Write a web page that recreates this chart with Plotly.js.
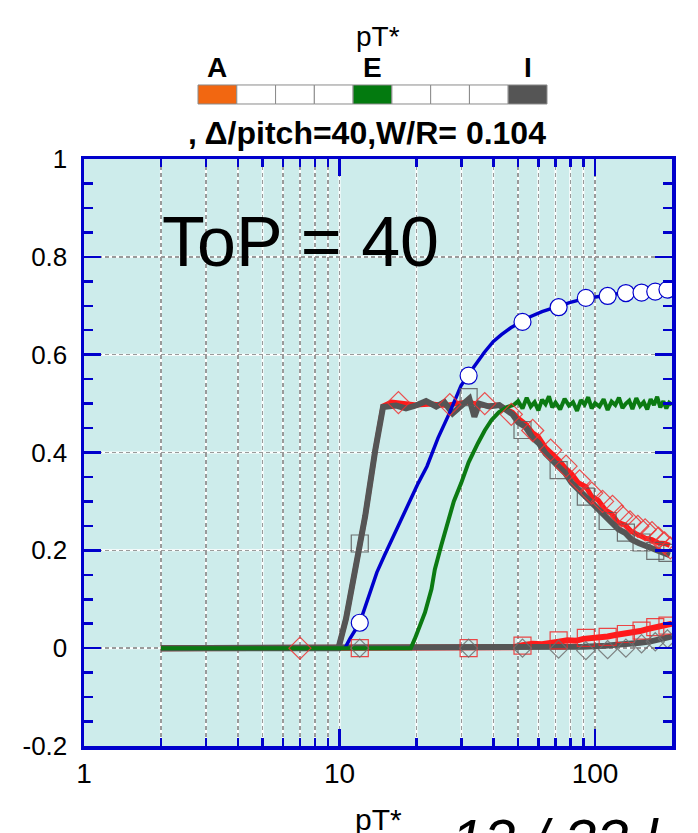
<!DOCTYPE html>
<html>
<head>
<meta charset="utf-8">
<script src="https://cdn.plot.ly/plotly-3.0.1.min.js"></script>
<style>html,body{margin:0;padding:0;background:#fff;}#chart{width:698px;height:833px;}</style>
</head>
<body>
<div id="chart"></div>
<script>
// ---------- data ----------
const blueX = [10.5, 11, 12, 13, 14, 15, 16, 18, 20.3, 22, 24.3, 27, 29.9, 32, 34, 36.9, 40, 43, 46.8, 52, 56, 62, 72, 80, 92, 100, 112, 120, 132, 152, 172, 195];
const blueY = [0, 0.02, 0.052, 0.105, 0.155, 0.19, 0.222, 0.277, 0.337, 0.372, 0.43, 0.482, 0.537, 0.56, 0.58, 0.605, 0.627, 0.641, 0.655, 0.668, 0.678, 0.688, 0.699, 0.707, 0.715, 0.718, 0.722, 0.724, 0.726, 0.728, 0.73, 0.732];

const greenX = [2, 19, 19.7, 20.5, 21.6, 22.9, 23.6, 25, 26.6, 28, 29.9, 32, 34.8, 37, 39.3, 42, 45.2,
  48, 50, 52, 54, 56, 58, 60, 62, 64, 66, 68, 70, 73, 76, 79, 82, 85, 88, 91, 94, 97, 100, 104, 108, 112, 116, 120, 124, 128, 132, 136, 140, 145, 150, 155, 160, 165, 170, 175, 180, 185, 190, 195, 200];
const greenY = [0, 0, 0.019, 0.045, 0.073, 0.121, 0.161, 0.21, 0.256, 0.3, 0.337, 0.38, 0.419, 0.445, 0.466, 0.482, 0.493,
  0.497, 0.505, 0.49, 0.512, 0.494, 0.503, 0.486, 0.508, 0.499, 0.515, 0.492, 0.502, 0.488, 0.51, 0.496, 0.503, 0.485, 0.507, 0.498, 0.513, 0.49, 0.501, 0.494, 0.509, 0.487, 0.504, 0.497, 0.512, 0.491, 0.5, 0.506, 0.489, 0.511, 0.495, 0.503, 0.488, 0.509, 0.497, 0.514, 0.492, 0.505, 0.49, 0.502, 0.498];

const greyUpX = [2, 9.9, 10.6, 11.3, 11.6, 12.6, 13.8, 14.8, 16.65, 18.2, 19.9, 21.8, 23.9, 25.7, 27.7, 30.3, 32.2, 33.7, 35.2, 38.5, 42.2, 47.5, 50, 53.5, 57, 60.2, 64, 67.8, 72, 76.4, 81, 86, 92, 97.4, 103, 109.6, 116, 123.5, 131, 139, 148, 157, 167, 177.5, 187, 196];
const greyUpY = [0, 0, 0.06, 0.141, 0.161, 0.27, 0.405, 0.493, 0.496, 0.49, 0.496, 0.505, 0.494, 0.503, 0.48, 0.496, 0.51, 0.473, 0.5, 0.494, 0.497, 0.478, 0.462, 0.452, 0.43, 0.419, 0.398, 0.385, 0.37, 0.358, 0.338, 0.324, 0.31, 0.297, 0.285, 0.27, 0.258, 0.243, 0.236, 0.222, 0.215, 0.209, 0.203, 0.199, 0.194, 0.19];

const redUpX = [2, 9.9, 10.6, 11.3, 12.6, 13.8, 14.8, 16, 18, 20, 23, 26, 29, 32, 35, 38, 42, 47.5, 50, 53.5, 57, 60, 64, 67.8, 72, 76, 81, 86, 92, 97, 103, 110, 116, 123, 131, 139, 148, 157, 167, 177, 187, 196];
const redUpY = [0, 0, 0.06, 0.141, 0.27, 0.405, 0.495, 0.503, 0.5, 0.497, 0.499, 0.496, 0.5, 0.503, 0.498, 0.495, 0.497, 0.482, 0.47, 0.458, 0.44, 0.432, 0.41, 0.398, 0.385, 0.37, 0.356, 0.338, 0.33, 0.31, 0.302, 0.282, 0.275, 0.257, 0.252, 0.238, 0.232, 0.225, 0.222, 0.215, 0.214, 0.21];

const redLowX = [2, 42, 48, 52, 57, 62, 67, 72, 78, 84, 90, 97, 104, 112, 120, 130, 140, 150, 160, 170, 180, 190, 200];
const redLowY = [0, 0, 0.002, 0.006, 0.009, 0.008, 0.012, 0.013, 0.016, 0.015, 0.019, 0.02, 0.022, 0.024, 0.027, 0.029, 0.033, 0.035, 0.039, 0.042, 0.045, 0.047, 0.05];

const greyLowX = [2, 40, 60, 72, 90, 110, 130, 150, 165, 180, 200];
const greyLowY = [0, 0, 0.001, 0.002, 0.003, 0.005, 0.007, 0.011, 0.014, 0.018, 0.024];

// markers
const markX = [12, 32, 52, 72, 92, 112, 132, 152, 172, 192];
const blueMarkY = [0.052, 0.557, 0.667, 0.697, 0.716, 0.72, 0.726, 0.727, 0.729, 0.733];
const greySqY = [0.214, 0.513, 0.446, 0.364, 0.31, 0.26, 0.236, 0.216, 0.199, 0.195];
const redSqY = [0, 0, 0.005, 0.016, 0.021, 0.023, 0.029, 0.036, 0.043, 0.046];
const greyDiaY = [0, 0, 0, -0.002, -0.005, -0.003, 0, 0.009, 0.013, 0.019];
const redDiaX = [7, 17, 27, 37, 47, 57, 67, 77, 87, 97, 107, 117, 127, 137, 147, 157, 167, 177, 187, 197];
const redDiaY = [0, 0.502, 0.498, 0.5, 0.478, 0.445, 0.405, 0.372, 0.342, 0.317, 0.3, 0.29, 0.27, 0.258, 0.249, 0.242, 0.236, 0.225, 0.215, 0.205];

// ticks & legend
const xTickVals = [1, 10, 100];
const xTickText = ['1', '10', '100'];
const xMinorVals = [2, 3, 4, 5, 6, 7, 8, 9, 20, 30, 40, 50, 60, 70, 80, 90, 200];
const yTickVals = [-0.2, 0, 0.2, 0.4, 0.6, 0.8, 1];
const yTickText = ['-0.2', '0', '0.2', '0.4', '0.6', '0.8', '1'];
const legendColors = ['#f26711', '#ffffff', '#ffffff', '#ffffff', '#037a0f', '#ffffff', '#ffffff', '#ffffff', '#555555'];
const legendLabels = [['A', 0], ['E', 4], ['I', 8]];

// ---------- styling ----------
const BLUE = '#0000cc', GREEN = '#0b7a12', GREY = '#555555', RED = '#ff1a1a';
const FONT = 'Liberation Sans, Arial, sans-serif';
const GRIDDASH = '4px,3px';

function line(x, y, color, width) {
  return {x: x, y: y, type: 'scatter', mode: 'lines', line: {color: color, width: width}, hoverinfo: 'skip'};
}
function marks(x, y, symbol, size, color, fill, lw) {
  return {x: x, y: y, type: 'scatter', mode: 'markers', hoverinfo: 'skip',
    marker: {symbol: symbol, size: size, color: fill || color, line: {color: color, width: lw || 1.2}}};
}

const traces = [
  line(redLowX, redLowY, RED, 6),
  line(greyLowX, greyLowY, GREY, 6),
  line(redUpX, redUpY, RED, 5),
  line(greyUpX, greyUpY, GREY, 6),
  line(blueX, blueY, BLUE, 3.5),
  line(greenX, greenY, GREEN, 4),
  marks(markX, redSqY, 'square-open', 17, 'rgba(240,40,40,0.85)'),
  marks(markX, greyDiaY, 'diamond-open', 14, 'rgba(110,110,110,0.85)'),
  marks(markX, greySqY, 'square-open', 17, 'rgba(90,90,90,0.85)'),
  marks(redDiaX, redDiaY, 'diamond-open', 17, 'rgba(240,50,50,0.85)'),
  marks(markX, blueMarkY, 'circle', 17, BLUE, '#ffffff', 1.2)
];

// grid underlay (white) beneath dashed grey grid
const shapes = [];
const gridXs = [2, 3, 4, 5, 6, 7, 8, 9, 10, 20, 30, 40, 50, 60, 70, 80, 90, 100];
gridXs.forEach(v => shapes.push({type: 'line', xref: 'x', yref: 'paper', x0: v, x1: v, y0: 0, y1: 1, layer: 'below', line: {color: '#ffffff', width: 2}}));
[0, 0.2, 0.4, 0.6, 0.8].forEach(v => shapes.push({type: 'line', xref: 'paper', yref: 'y', x0: 0, x1: 1, y0: v, y1: v, layer: 'below', line: {color: '#ffffff', width: 2}}));

// legend strip above plot
const L0 = 0.1939, L1 = 0.7874, LB = 1.0937, LT = 1.1261;
const cw = (L1 - L0) / legendColors.length;
legendColors.forEach((c, i) => shapes.push({type: 'rect', xref: 'paper', yref: 'paper',
  x0: L0 + i * cw, x1: L0 + (i + 1) * cw, y0: LB, y1: LT, fillcolor: c, line: {color: '#8a8a8a', width: 1}}));

function ann(text, x, y, size, extra) {
  return Object.assign({text: text, xref: 'paper', yref: 'paper', x: x, y: y, xanchor: 'center', yanchor: 'middle',
    showarrow: false, font: {family: FONT, size: size, color: '#000'}}, extra || {});
}

const annotations = [
  ann('pT*', 0.4995, 1.209, 28),
  ann('<b>, Δ/pitch=40,W/R= 0.104</b>', 0.4813, 1.0443, 32),
  ann('ToP = 40', 0.1293, 0.858, 70, {xanchor: 'left'}),
  ann('pT*', 0.5, -0.094, 30, {yanchor: 'top'}),
  ann('<i>12 / 33 l</i>', 0.62, -0.1, 58, {xanchor: 'left', yanchor: 'top'})
];
legendLabels.forEach(([t, i]) => annotations.push(ann('<b>' + t + '</b>', L0 + (i + 0.5) * cw, 1.156, 28)));

const layout = {
  width: 698, height: 833,
  margin: {l: 84, r: 26, t: 159, b: 87},
  paper_bgcolor: '#ffffff', plot_bgcolor: '#cdeceb',
  showlegend: false,
  xaxis: {
    type: 'log', range: [0, Math.log10(200)],
    tickmode: 'array', tickvals: xTickVals, ticktext: xTickText,
    ticks: 'inside', ticklen: 17, tickwidth: 2.5, tickcolor: BLUE,
    showline: true, linecolor: BLUE, linewidth: 3.5, mirror: 'ticks',
    showgrid: true, gridcolor: '#9a9a9a', griddash: GRIDDASH, gridwidth: 1.5,
    zeroline: false,
    tickfont: {family: FONT, size: 28, color: '#000'},
    minor: {tickmode: 'array', tickvals: xMinorVals, ticks: 'inside', ticklen: 8, tickwidth: 2.5, tickcolor: BLUE,
      showgrid: true, gridcolor: '#9a9a9a', griddash: GRIDDASH, gridwidth: 1.5}
  },
  yaxis: {
    range: [-0.2, 1],
    tickmode: 'array', tickvals: yTickVals, ticktext: yTickText,
    ticks: 'inside', ticklen: 17, tickwidth: 2.5, tickcolor: BLUE,
    showline: true, linecolor: BLUE, linewidth: 3.5, mirror: 'ticks',
    showgrid: true, gridcolor: '#9a9a9a', griddash: GRIDDASH, gridwidth: 1.5,
    zeroline: false, ticklabelstandoff: 8,
    tickfont: {family: FONT, size: 26, color: '#000'},
    minor: {dtick: 0.05, ticks: 'inside', ticklen: 9, tickwidth: 2.5, tickcolor: BLUE, showgrid: false}
  },
  shapes: shapes,
  annotations: annotations
};

Plotly.newPlot('chart', traces, layout, {displayModeBar: false, staticPlot: true});
</script>
</body>
</html>
